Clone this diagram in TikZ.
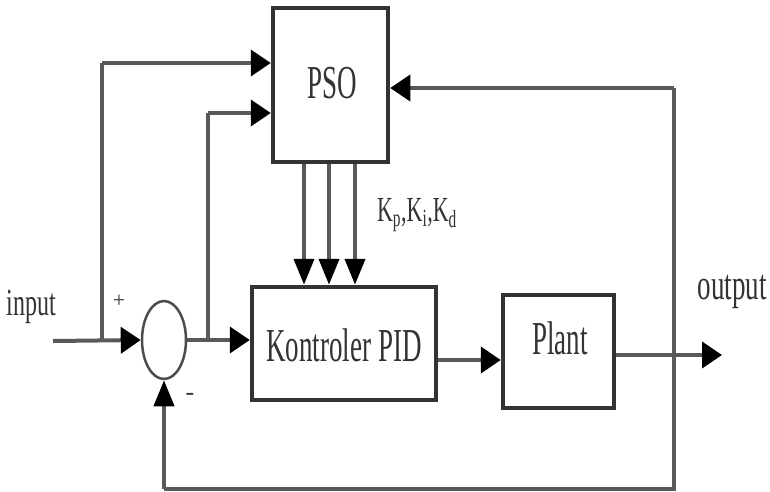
\documentclass[tikz,border=0pt]{standalone}
\usepackage{fontspec}
\setmainfont{Liberation Serif}
\usetikzlibrary{arrows.meta,shapes.geometric}
\begin{document}
\begin{tikzpicture}[x=1pt,y=-1pt,
  box/.style={draw=black!80, line width=4.5pt, fill=white, inner sep=0pt},
  conn/.style={draw=black!65, line width=4pt},
  arr/.style={conn, -{Triangle[length=20pt,width=26pt,fill=black,color=black]}},
  varr/.style={conn, -{Triangle[length=26pt,width=20pt,fill=black,color=black]}},
  lbl/.style={inner sep=0pt, text=black!80},
]
\useasboundingbox (0,0) rectangle (770,491);
% blocks
\node[box, minimum width=115pt, minimum height=154pt] (pso) at (330.5,85) {};
\node[box, minimum width=184pt, minimum height=113pt] (pid) at (344,343.5) {};
\node[box, minimum width=111pt, minimum height=113pt] (plant) at (558.5,351.5) {};
\node[draw=black!70, line width=2.5pt, ellipse, minimum width=44pt, minimum height=78pt, inner sep=0pt] (sum) at (164,340) {};
% labels
\node[lbl] (psolabel) at (332,83) {\fontsize{27}{27}\selectfont\scalebox{1}[1.75]{PSO}};
\node[lbl] (pidlabel) at (344,345) {\fontsize{27}{27}\selectfont\scalebox{1}[1.75]{Kontroler PID}};
\node[lbl] (plantlabel) at (560,338) {\fontsize{27}{27}\selectfont\scalebox{1}[1.75]{Plant}};
\node[lbl] (inlabel) at (31,307) {\fontsize{24}{24}\selectfont\scalebox{1}[1.6]{input}};
\node[lbl] (outlabel) at (732,292) {\fontsize{27}{27}\selectfont\scalebox{1}[1.6]{output}};
\node[lbl] (klabel) at (417,215) {\fontsize{22}{22}\selectfont\scalebox{1}[1.6]{K\textsubscript{p},K\textsubscript{i},K\textsubscript{d}}};
\node[lbl] (plus) at (119,301) {\fontsize{22}{22}\selectfont +};
\node[lbl] (minus) at (190,397) {\fontsize{26}{26}\selectfont -};
% coordinates
\coordinate (in) at (53,341);
\coordinate (j1) at (102,341);
\coordinate (j2) at (208,341);
\coordinate (fb) at (674,355);
\coordinate (out) at (722,355);
% connectors
\draw[arr] (in) -- (sum.west);
\draw[conn] (j1) -- (102,63);
\draw[arr] (102,63) -- (pso.west |- 0,63);
\draw[conn] (j2) -- (208,113);
\draw[arr] (208,113) -- (pso.west |- 0,113);
\draw[arr] (sum.east) -- (pid.west |- sum.east);
\draw[arr] (pid.east |- 0,360) -- (plant.west |- 0,360);
\draw[arr] (plant.east |- fb) -- (out);
\draw[conn] (fb) -- (674,489) -- (164,489);
\draw[varr] (164,489) -- (sum.south);
\draw[conn] (fb) -- (674,88);
\draw[arr] (674,88) -- (pso.east |- 0,88);
\draw[varr] (pso.south -| 304,0) -- (pid.north -| 304,0);
\draw[varr] (pso.south -| 329,0) -- (pid.north -| 329,0);
\draw[varr] (pso.south -| 355,0) -- (pid.north -| 355,0);
\end{tikzpicture}
\end{document}
